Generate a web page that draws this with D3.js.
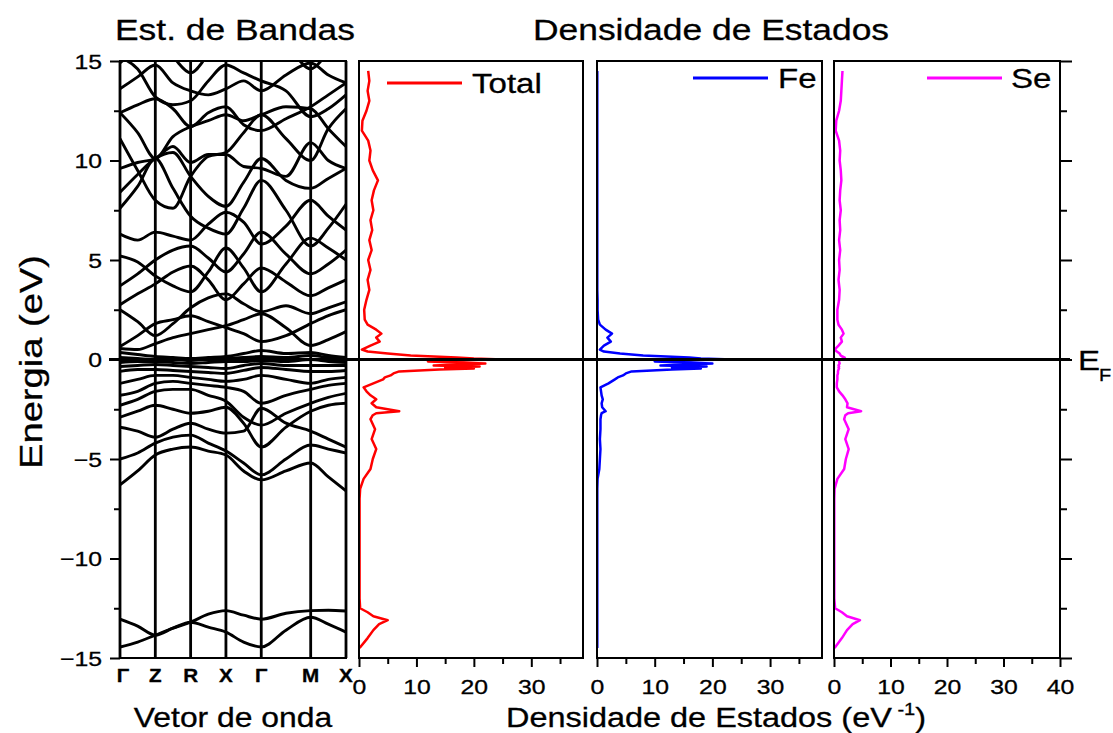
<!DOCTYPE html>
<html lang="en">
<head>
<meta charset="UTF-8">
<script src="https://d3js.org/d3.v7.min.js"></script>
<title>Estrutura de Bandas e DOS</title>
<style>
    body { margin: 0; background: white; }
    text { font-family: "Liberation Sans", Arial, sans-serif; fill: black; stroke: black; stroke-width: 0.3px; }
</style>
</head>
<body>
<div id="chart"></div>
<script>
// k-path of the band structure
const kLabels = ["Γ", "Z", "R", "X", "Γ", "M", "X"];
const kTicks = [0, 1, 2, 3, 4, 5.4, 6.4];
const kSamples = [0, 0.5, 1, 1.5, 2, 2.5, 3, 3.5, 4, 4.7, 5.4, 5.9, 6.4];

// band energies (eV) at kSamples
const bands = [
    [-14.45, -14.2, -13.85, -13.5, -13.2, -13.45, -13.7, -14.2, -14.45, -13.6, -12.95, -13.3, -13.7],
    [-13.05, -13.4, -13.85, -13.5, -13.2, -12.8, -12.62, -12.85, -13.05, -12.75, -12.62, -12.6, -12.64],
    [-6.3, -5.6, -4.8, -4.5, -4.4, -4.6, -4.8, -5.6, -6.05, -5.6, -5.2, -5.9, -6.6],
    [-5.0, -4.7, -4.2, -3.9, -3.8, -4.2, -4.6, -5.2, -5.8, -5.0, -4.3, -4.5, -4.7],
    [-3.4, -3.6, -3.9, -3.5, -3.2, -3.5, -3.7, -3.6, -2.45, -3.2, -3.6, -4.0, -4.4],
    [-2.9, -2.6, -2.3, -2.5, -2.7, -2.6, -2.4, -3.2, -4.4, -3.4, -2.6, -2.3, -2.2],
    [-2.3, -2.0, -1.6, -1.5, -1.5, -1.8, -2.1, -2.9, -3.3, -2.7, -2.2, -1.9, -1.7],
    [-1.8, -1.6, -1.2, -1.1, -1.2, -1.3, -1.4, -1.6, -2.2, -1.8, -1.5, -1.3, -1.2],
    [-1.2, -1.0, -0.8, -0.8, -0.9, -1.0, -1.1, -1.0, -0.8, -1.0, -1.2, -1.0, -0.9],
    [-0.6, -0.5, -0.5, -0.55, -0.6, -0.65, -0.7, -0.55, -0.4, -0.5, -0.6, -0.6, -0.55],
    [-0.35, -0.3, -0.25, -0.3, -0.35, -0.4, -0.45, -0.3, -0.2, -0.3, -0.3, -0.3, -0.3],
    [-0.15, -0.1, -0.1, -0.15, -0.2, -0.15, -0.1, -0.1, -0.05, -0.1, 0.0, -0.1, -0.15],
    [0.1, 0.05, 0.0, 0.0, -0.05, 0.0, 0.05, 0.1, 0.15, 0.1, 0.2, 0.1, 0.05],
    [0.35, 0.25, 0.15, 0.1, 0.05, 0.1, 0.15, 0.3, 0.45, 0.3, 0.35, 0.2, 0.1],
    [0.55, 0.5, 0.8, 1.1, 1.3, 1.5, 1.7, 2.0, 2.3, 1.6, 0.7, 1.0, 1.4],
    [0.65, 1.2, 1.8, 2.0, 2.2, 1.9, 1.6, 1.3, 0.9, 1.2, 1.8, 2.2, 2.5],
    [2.5, 1.9, 1.2, 1.8, 2.6, 3.1, 3.3, 2.8, 2.4, 2.7, 2.3, 2.6, 2.9],
    [2.75, 3.3, 3.8, 4.4, 4.7, 4.0, 3.0, 3.8, 4.6, 3.9, 3.2, 3.6, 4.0],
    [3.7, 4.3, 5.0, 5.5, 5.7, 5.1, 4.4, 5.3, 6.4, 5.3, 4.3, 4.8, 5.5],
    [5.2, 4.9, 4.2, 3.7, 3.4, 4.4, 5.6, 4.6, 3.4, 4.8, 6.1, 5.6, 5.0],
    [6.3, 6.0, 6.4, 6.2, 6.0, 6.8, 7.4, 6.9, 5.8, 6.7, 8.0, 7.2, 6.5],
    [7.6, 8.7, 10.1, 8.6, 7.2, 6.6, 6.3, 7.6, 9.0, 7.5, 5.7, 6.6, 7.8],
    [8.4, 9.3, 10.1, 10.4, 9.2, 8.2, 7.7, 8.9, 10.1, 9.0, 8.6, 9.1, 9.6],
    [9.6, 9.9, 10.1, 10.7, 9.9, 10.3, 10.3, 9.7, 9.6, 9.2, 10.9, 10.0, 9.6],
    [11.1, 9.5, 8.0, 7.6, 9.2, 10.2, 10.4, 11.4, 12.3, 11.1, 10.0, 11.6, 12.6],
    [12.4, 11.4, 10.1, 11.2, 11.7, 12.0, 12.3, 12.0, 12.3, 12.7, 12.6, 11.6, 10.7],
    [12.4, 12.8, 13.1, 12.6, 11.7, 12.4, 12.7, 11.8, 11.5, 12.1, 12.7, 13.3, 13.9],
    [13.6, 14.2, 14.8, 13.9, 13.5, 13.3, 13.6, 14.0, 13.5, 14.3, 14.9, 14.3, 13.9],
    [15.2, 14.6, 13.2, 12.8, 13.0, 14.0, 14.8, 14.4, 14.0, 13.5, 12.2, 12.6, 13.3],
    [14.9, 15.6, 16.0, 15.2, 14.4, 15.3, 16.0, 15.6, 15.2, 15.6, 14.6, 15.4, 16.0]
];

// density of states (eV^-1) on a shared energy grid
const dosEnergy = [14.5, 14, 13.5, 13, 12.5, 12, 11.5, 11, 10.5, 10, 9.5, 9, 8.5, 8, 7.5, 7, 6.5, 6, 5.5, 5,
    4.5, 4, 3.5, 3, 2.5, 2, 1.75, 1.5, 1.3, 1.1, 0.9, 0.7, 0.5, 0.4, 0.3, 0.2, 0.1, 0.05, 0, -0.05,
    -0.1, -0.2, -0.3, -0.35, -0.4, -0.45, -0.5, -0.6, -0.7, -0.8, -0.9, -1.0, -1.2, -1.4, -1.6, -1.8, -2.0, -2.2, -2.4, -2.6,
    -2.7, -2.8, -3.0, -3.5, -4.0, -4.5, -5.0, -5.5, -6.0, -6.5, -7, -8, -9, -10, -11, -12, -12.5, -12.7, -12.9, -13.1,
    -13.3, -13.6, -14.0, -14.5];
const dosTotal = [1.6, 1.8, 1.5, 1.8, 1.3, 0.6, 0.5, 1.6, 2.0, 1.8, 2.4, 3.3, 2.6, 2.2, 2.5, 2.0, 2.3, 1.8, 2.2, 1.6,
    2.0, 1.5, 1.8, 1.3, 0.9, 1.0, 1.5, 3.0, 3.9, 3.0, 3.6, 2.0, 0.5, 1.5, 5, 9, 17, 20, 25, 14,
    12, 22, 13, 21, 15, 20, 14, 7, 6, 5.5, 4.5, 4.2, 2.5, 0.8, 1.3, 2.0, 3.0, 2.2, 3.0, 7.0,
    3.0, 2.4, 2.0, 2.8, 2.2, 3.0, 2.4, 2.0, 0.8, 0.2, 0.1, 0.1, 0.1, 0.1, 0.1, 0.1, 0.2, 1.5, 2.5, 5.0,
    3.5, 2.5, 1.5, 0.1];
const dosFe = [0.05, 0.05, 0.05, 0.05, 0.05, 0.05, 0.05, 0.05, 0.05, 0.05, 0.05, 0.05, 0.05, 0.05, 0.05, 0.05, 0.05, 0.05, 0.05, 0.05,
    0.05, 0.05, 0.05, 0.1, 0.1, 0.2, 0.5, 1.5, 2.6, 1.8, 2.4, 1.2, 0.5, 1.2, 4, 8, 16, 18, 23.5, 12,
    10, 20, 11, 19, 13, 18, 13, 6, 5, 4.5, 3.6, 3.1, 2.0, 0.6, 0.7, 0.8, 1.0, 0.8, 0.9, 1.5,
    0.8, 0.7, 0.6, 0.6, 0.5, 0.6, 0.5, 0.4, 0.1, 0.05, 0.05, 0.05, 0.05, 0.05, 0.05, 0.05, 0.05, 0.05, 0.05, 0.05,
    0.05, 0.05, 0.05, 0.05];
const dosSe = [1.5, 1.4, 1.3, 1.2, 0.9, 0.4, 0.3, 0.9, 1.1, 1.0, 1.2, 1.3, 1.1, 1.0, 1.2, 1.0, 1.1, 0.9, 1.1, 0.9,
    1.0, 0.8, 1.0, 0.9, 0.6, 0.6, 0.8, 1.4, 1.7, 1.2, 1.4, 0.8, 0.1, 0.5, 1.0, 1.2, 1.9, 1.5, 1.2, 0.9,
    0.9, 1.0, 0.8, 0.9, 0.8, 0.9, 0.8, 0.7, 0.7, 0.6, 0.6, 0.6, 0.5, 0.5, 0.9, 1.5, 2.0, 2.4, 2.3, 4.8,
    2.5, 2.0, 1.8, 2.6, 2.0, 2.6, 2.1, 1.8, 0.6, 0.1, 0.05, 0.05, 0.05, 0.05, 0.05, 0.05, 0.2, 1.4, 2.3, 4.6,
    3.3, 2.3, 1.4, 0.1];

const seriesNames = ["Total", "Fe", "Se"];
const dosTicks = [[0, 10, 20, 30], [0, 10, 20, 30], [0, 10, 20, 30, 40]];

const width = 1113, height = 733;
const stretch = 1.18; // the original lettering is drawn a little wide

const svg = d3.select("#chart").append("svg")
    .attr("width", width)
    .attr("height", height);

const y = d3.scaleLinear().domain([-15, 15]).range([658, 61]);
const xk = d3.scaleLinear().domain([0, 6.4]).range([120, 346]);

const addText = (x, yy, str, size, anchor = "middle") => {
    return svg.append("text")
        .attr("transform", `translate(${x},${yy}) scale(${stretch},1)`)
        .attr("text-anchor", anchor)
        .style("font-size", size + "px")
        .text(str);
};

// ---------- band structure panel ----------
svg.append("clipPath").attr("id", "bandclip")
    .append("rect").attr("x", 120).attr("y", 61).attr("width", 226).attr("height", 597);

const bandLine = d3.line()
    .x((d, i) => xk(kSamples[i]))
    .y(d => y(d))
    .curve(d3.curveMonotoneX);

svg.append("g").attr("clip-path", "url(#bandclip)")
    .selectAll("path")
    .data(bands)
    .enter()
    .append("path")
    .attr("d", d => bandLine(d))
    .attr("fill", "none")
    .attr("stroke", "black")
    .attr("stroke-width", 2.9);

svg.append("g").selectAll("line")
    .data(kTicks)
    .enter()
    .append("line")
    .attr("x1", d => xk(d)).attr("x2", d => xk(d))
    .attr("y1", 61).attr("y2", 658)
    .attr("stroke", "black")
    .attr("stroke-width", 2.8);

svg.append("rect")
    .attr("x", 120).attr("y", 61).attr("width", 226).attr("height", 597)
    .attr("fill", "none").attr("stroke", "black").attr("stroke-width", 2);

// k labels
kLabels.forEach((lab, i) => {
    addText(xk(kTicks[i]) + (i === 0 ? 3 : 0), 682, lab, 17.5).style("font-weight", "bold");
});

// energy axis
const majorE = d3.range(-15, 15.1, 5);
const minorE = d3.range(-12.5, 15, 5);
const leftMajor = svg.append("g").attr("transform", "translate(120,0)")
    .call(d3.axisLeft(y).tickValues(majorE).tickSize(10).tickFormat(d3.format("d")));
leftMajor.select(".domain").remove();
leftMajor.selectAll("line").attr("stroke-width", 2);
leftMajor.selectAll("text")
    .attr("x", 0).attr("dy", null)
    .attr("transform", `translate(-18,7) scale(${stretch},1)`)
    .style("font-size", "21px")
    .style("font-family", "Liberation Sans, Arial, sans-serif")
    .text(d => d < 0 ? "\u2212" + Math.abs(d) : d);
const leftMinor = svg.append("g").attr("transform", "translate(120,0)")
    .call(d3.axisLeft(y).tickValues(minorE).tickSize(6).tickFormat(""));
leftMinor.select(".domain").remove();
leftMinor.selectAll("line").attr("stroke-width", 2);

// ---------- DOS panels ----------
const panels = [
    {data: dosTotal, color: "#ff0000", x0: 359, x1: 583, max: 39, legLine: [387, 462, 83], legText: 472},
    {data: dosFe, color: "#0000ff", x0: 597, x1: 822, max: 39, legLine: [693, 768, 78], legText: 778},
    {data: dosSe, color: "#ff00ff", x0: 834, x1: 1060, max: 40, legLine: [927, 1002, 78], legText: 1011}
];

panels.forEach((p, pi) => {
    const x = d3.scaleLinear().domain([0, p.max]).range([p.x0, p.x1]);

    const dosLine = d3.line()
        .x((d, i) => x(d))
        .y((d, i) => y(dosEnergy[i]));

    svg.append("path")
        .attr("d", dosLine(p.data))
        .attr("fill", "none")
        .attr("stroke", p.color)
        .attr("stroke-width", 2.5)
        .attr("stroke-linejoin", "round");

    svg.append("rect")
        .attr("x", p.x0).attr("y", 61).attr("width", p.x1 - p.x0).attr("height", 597)
        .attr("fill", "none").attr("stroke", "black").attr("stroke-width", 2);

    const bMajor = svg.append("g").attr("transform", "translate(0,658)")
        .call(d3.axisBottom(x).tickValues(dosTicks[pi]).tickSize(9).tickFormat(d3.format("d")));
    bMajor.select(".domain").remove();
    bMajor.selectAll("line").attr("stroke-width", 2);
    bMajor.selectAll("text")
        .attr("y", 0).attr("dy", null)
        .attr("transform", `translate(0,36) scale(${stretch},1)`)
        .style("font-size", "21px")
        .style("font-family", "Liberation Sans, Arial, sans-serif");
    const bMinor = svg.append("g").attr("transform", "translate(0,658)")
        .call(d3.axisBottom(x).tickValues(d3.range(5, p.max, 10)).tickSize(6).tickFormat(""));
    bMinor.select(".domain").remove();
    bMinor.selectAll("line").attr("stroke-width", 2);

    // legend
    svg.append("line")
        .attr("x1", p.legLine[0]).attr("x2", p.legLine[1])
        .attr("y1", p.legLine[2]).attr("y2", p.legLine[2])
        .attr("stroke", p.color).attr("stroke-width", 2.8);
    addText(p.legText, p.legLine[2] + 10, seriesNames[pi], 28, "start");
});

// right energy axis on the last panel
const rightMajor = svg.append("g").attr("transform", "translate(1060,0)")
    .call(d3.axisRight(y).tickValues(majorE).tickSize(12).tickFormat(""));
rightMajor.select(".domain").remove();
rightMajor.selectAll("line").attr("stroke-width", 2);
const rightMinor = svg.append("g").attr("transform", "translate(1060,0)")
    .call(d3.axisRight(y).tickValues(minorE).tickSize(7).tickFormat(""));
rightMinor.select(".domain").remove();
rightMinor.selectAll("line").attr("stroke-width", 2);

// Fermi level
svg.append("line")
    .attr("x1", 109).attr("x2", 1070)
    .attr("y1", y(0)).attr("y2", y(0))
    .attr("stroke", "black").attr("stroke-width", 3.2);
addText(1078, y(0) + 10, "E", 28, "start");
addText(1099, y(0) + 21, "F", 17, "start");

// titles
addText(235, 40, "Est. de Bandas", 30);
addText(711, 40, "Densidade de Estados", 30);
addText(233, 727, "Vetor de onda", 27);
const xt = addText(716, 727, "Densidade de Estados (eV", 27.5);
xt.append("tspan").attr("dy", -12).style("font-size", "17px").text(" -1");
xt.append("tspan").attr("dy", 12).text(")");
svg.append("text")
    .attr("transform", "translate(42,362) rotate(-90)")
    .attr("text-anchor", "middle")
    .attr("textLength", 214)
    .attr("lengthAdjust", "spacingAndGlyphs")
    .style("font-size", "31px")
    .text("Energia (eV)");
</script>
</body>
</html>
